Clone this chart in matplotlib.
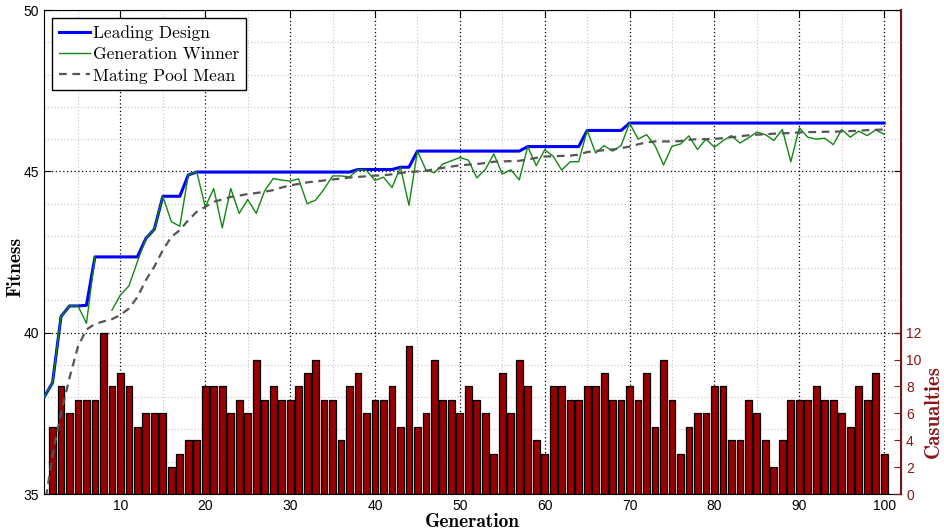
import numpy as np
import matplotlib
matplotlib.use("Agg")
import matplotlib.pyplot as plt
from matplotlib.ticker import MultipleLocator

plt.rcParams['font.family'] = ['Liberation Sans', 'DejaVu Sans']

generation = np.arange(1, 101)

leading = [38.0, 38.45, 40.5, 40.83, 40.83, 40.85, 42.35, 42.35, 42.35, 42.35,
           42.35, 42.35, 42.92, 43.21, 44.23, 44.23, 44.23, 44.89, 44.98, 44.98,
           44.98, 44.98, 44.98, 44.98, 44.98, 44.98, 44.98, 44.98, 44.98, 44.98,
           44.98, 44.98, 44.98, 44.98, 44.98, 44.98, 44.98, 45.06, 45.06, 45.06,
           45.06, 45.06, 45.13, 45.13, 45.63, 45.63, 45.63, 45.63, 45.63, 45.63,
           45.63, 45.63, 45.63, 45.63, 45.63, 45.63, 45.63, 45.77, 45.77, 45.77,
           45.77, 45.77, 45.77, 45.77, 46.27, 46.27, 46.27, 46.27, 46.27, 46.5,
           46.5, 46.5, 46.5, 46.5, 46.5, 46.5, 46.5, 46.5, 46.5, 46.5,
           46.5, 46.5, 46.5, 46.5, 46.5, 46.5, 46.5, 46.5, 46.5, 46.5,
           46.5, 46.5, 46.5, 46.5, 46.5, 46.5, 46.5, 46.5, 46.5, 46.5]

winner = [38.0, 38.45, 40.5, 40.83, 40.83, 40.29, 42.35, np.nan, 40.7, 41.17,
          41.45, 42.2, 42.92, 43.21, 44.23, 43.44, 43.3, 44.89, 44.98, 43.9,
          44.47, 43.25, 44.47, 43.7, 44.13, 43.7, 44.4, 44.78, 44.73, 44.7,
          44.77, 44.0, 44.11, 44.45, 44.86, 44.86, 44.83, 45.06, 45.03, 44.72,
          44.82, 44.5, 45.13, 43.95, 45.63, 45.05, 44.96, 45.23, 45.33, 45.43,
          45.35, 44.8, 45.06, 45.54, 44.92, 45.05, 44.74, 45.77, 45.18, 45.67,
          45.47, 45.04, 45.3, 45.3, 46.27, 45.57, 45.8, 45.63, 45.8, 46.5,
          46.0, 46.14, 45.8, 45.2, 45.78, 45.85, 46.1, 45.68, 46.0, 45.75,
          45.95, 46.11, 45.88, 46.04, 46.22, 46.14, 45.96, 46.3, 45.3, 46.35,
          46.06, 46.0, 46.03, 45.83, 46.3, 46.06, 46.25, 46.11, 46.29, 46.15]

pool_mean = [34.5, 36.2, 37.5, 38.6, 39.57, 40.1, 40.27, 40.35, 40.42, 40.55,
             40.75, 41.1, 41.63, 42.05, 42.56, 42.97, 43.18, 43.49, 43.75, 43.9,
             44.06, 44.13, 44.21, 44.25, 44.3, 44.33, 44.37, 44.42, 44.5, 44.57,
             44.61, 44.66, 44.69, 44.72, 44.75, 44.78, 44.81, 44.83, 44.85, 44.87,
             44.88, 44.91, 44.95, 44.98, 45.0, 45.02, 45.07, 45.11, 45.15, 45.19,
             45.21, 45.23, 45.26, 45.3, 45.31, 45.32, 45.33, 45.37, 45.42, 45.46,
             45.47, 45.48, 45.49, 45.52, 45.6, 45.63, 45.66, 45.68, 45.72, 45.77,
             45.84, 45.9, 45.93, 45.93, 45.93, 45.94, 45.98, 46.0, 46.0, 46.01,
             46.03, 46.06, 46.09, 46.12, 46.14, 46.15, 46.17, 46.18, 46.19, 46.21,
             46.22, 46.22, 46.23, 46.23, 46.24, 46.25, 46.26, 46.28, 46.29, 46.3]

casualty_gen = np.arange(2, 101)
casualties = [5, 8, 6, 7, 7, 7, 12, 8, 9, 8,
              5, 6, 6, 6, 2, 3, 4, 4, 8, 8,
              8, 6, 7, 6, 10, 7, 8, 7, 7, 8,
              9, 10, 7, 7, 4, 8, 9, 6, 7, 7,
              8, 5, 11, 5, 6, 10, 7, 7, 6, 8,
              7, 6, 3, 9, 6, 10, 8, 4, 3, 8,
              8, 7, 7, 8, 8, 9, 7, 7, 8, 7,
              9, 5, 10, 7, 3, 5, 6, 6, 8, 8,
              4, 4, 7, 6, 4, 2, 4, 7, 7, 7,
              8, 7, 7, 6, 5, 8, 7, 9, 3]

dark_red = '#8c1414'

fig = plt.figure(figsize=(9.45, 5.30), dpi=100)
ax = fig.add_axes([0.0466, 0.0679, 0.907, 0.913])
ax2 = ax.twinx()
# third layer so the curves sit above the bars while the grid stays below
ax3 = fig.add_axes(ax.get_position(), sharex=ax, sharey=ax)
ax3.axis('off')

# fitness axis with grid
ax.set_xlim(1, 102)
ax.set_ylim(35, 50)
ax.xaxis.set_major_locator(MultipleLocator(10))
ax.xaxis.set_minor_locator(MultipleLocator(5))
ax.yaxis.set_major_locator(MultipleLocator(5))
ax.yaxis.set_minor_locator(MultipleLocator(1))
ax.grid(which='major', color='black', ls=(0, (1, 2)), lw=0.9)
ax.grid(which='minor', color='#c4c4c4', ls=(0, (1, 2)), lw=0.8)
ax.tick_params(which='major', direction='in', top=True, right=True,
               length=5, labelsize=10)
ax.tick_params(which='minor', length=0)
ax.set_xlabel('Generation', family='cmb10', fontsize=14, labelpad=0)
ax.set_ylabel('Fitness', family='cmb10', fontsize=14)
ax.yaxis.set_label_coords(-0.023, 0.47)

# casualties per generation
ax2.bar(casualty_gen, casualties, width=0.8, color='#990000',
        edgecolor='black', linewidth=0.9)
ax2.set_ylim(0, 36)
ax2.set_yticks(np.arange(0, 13, 2))
ax2.tick_params(axis='y', direction='in', length=5, colors=dark_red,
                labelsize=10)
for side in ['left', 'top', 'bottom']:
    ax2.spines[side].set_visible(False)
ax2.spines['right'].set_color('#6e1a1a')
ax2.spines['right'].set_linewidth(1.5)
ax2.set_ylabel('Casualties', family='cmb10', fontsize=15, color=dark_red)
ax2.yaxis.set_label_coords(1.027, 0.17)

h1, = ax3.plot(generation, leading, color='#0000ff', lw=2.2,
               label='Leading Design')
h2, = ax3.plot(generation, winner, color='#118811', lw=1.0,
               label='Generation Winner')
h3, = ax3.plot(generation, pool_mean, color='#555555', lw=1.6,
               ls=(0, (3.5, 2.5)), label='Mating Pool Mean')

leg = ax3.legend(handles=[h1, h2, h3], loc='upper left',
                 prop={'family': 'cmr10', 'size': 12.5},
                 fancybox=False, framealpha=1, edgecolor='black',
                 handlelength=1.8, handletextpad=0.15, borderpad=0.4,
                 labelspacing=0.35, borderaxespad=0.45)
leg.get_frame().set_linewidth(1.0)

fig.savefig('out.png', dpi=100)
